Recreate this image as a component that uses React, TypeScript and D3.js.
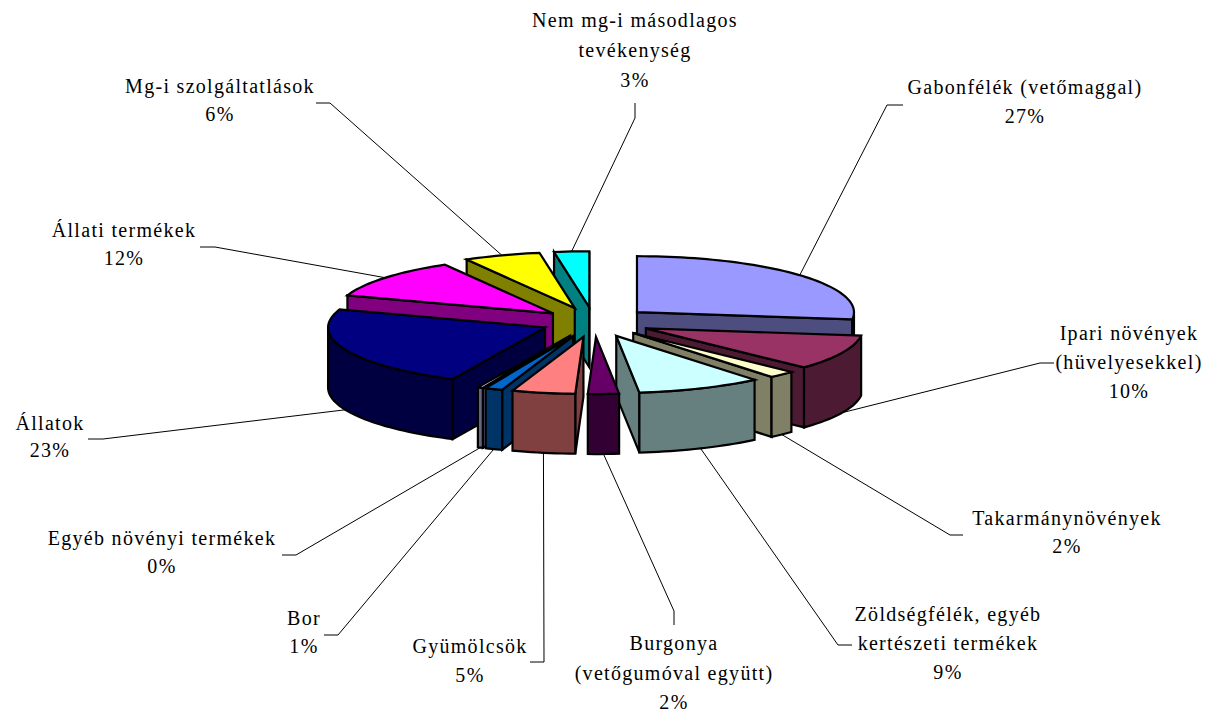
import React from "react";
import * as d3 from "d3";

// ---- data (percent shares, clockwise from 12 o'clock) ----
const categories = [
  ["Gabonfélék (vetőmaggal)"],
  ["Ipari növények", "(hüvelyesekkel)"],
  ["Takarmánynövények"],
  ["Zöldségfélék, egyéb", "kertészeti termékek"],
  ["Burgonya", "(vetőgumóval együtt)"],
  ["Gyümölcsök"],
  ["Bor"],
  ["Egyéb növényi termékek"],
  ["Állatok"],
  ["Állati termékek"],
  ["Mg-i szolgáltatlások"],
  ["Nem mg-i másodlagos", "tevékenység"],
];
const shares = [27, 10, 2, 9.3, 2.3, 4.7, 1.3, 0.4, 23.2, 11.5, 5.7, 2.6];
const topColors = ["#9999FF", "#993366", "#FFFFCC", "#CCFFFF", "#660066", "#FF8080", "#0066CC", "#CCCCFF", "#000080", "#FF00FF", "#FFFF00", "#00FFFF"];
const sideColors = ["#4D4D80", "#4D1A33", "#808066", "#668080", "#330033", "#804040", "#003366", "#666680", "#000040", "#800080", "#808000", "#008080"];
// point explosion per slice (fraction of the radius)
const explosions = [0.264, 0.264, 0.264, 0.264, 0.264, 0.264, 0.264, 0.264, 0.245, 0.245, 0.264, 0.264];
// back-to-front paint order
const paintOrder = [0, 11, 10, 9, 8, 1, 2, 3, 7, 6, 5, 4];

// ---- layout ----
const W = 1209, H = 714;
const CX = 594, CY = 322, RX = 217, RY_BACK = 56, RY_FRONT = 57, DEPTH = 60;
const FONT_SIZE = 20, LETTER = 1.3;
const labelLayout: { x: number; y: number; gap: number; a: number[]; b: number[]; base: boolean }[] = [
  { x: 1025, y: 94, gap: 29, a: [903, 105], b: [887, 105], base: false },
  { x: 1129, y: 340, gap: 29, a: [1054, 363], b: [1040, 363], base: true },
  { x: 1067, y: 525, gap: 28, a: [963, 535], b: [950, 535], base: true },
  { x: 948, y: 621, gap: 29, a: [852, 645], b: [838, 645], base: true },
  { x: 674, y: 650, gap: 29.5, a: [674, 625], b: [674, 611], base: true },
  { x: 470, y: 653, gap: 29, a: [530, 662], b: [544, 662], base: true },
  { x: 304, y: 625, gap: 28, a: [324, 635], b: [338, 635], base: true },
  { x: 162, y: 545, gap: 28, a: [282, 555], b: [296, 555], base: true },
  { x: 50, y: 430, gap: 27, a: [88, 439], b: [103, 439], base: true },
  { x: 124, y: 237, gap: 28, a: [200, 247], b: [215, 247], base: false },
  { x: 220, y: 93, gap: 28, a: [316, 103], b: [330, 103], base: false },
  { x: 635, y: 27, gap: 30, a: [635, 103], b: [635, 118], base: false },
];

const pct = d3.format(".0f");
const pieAngles = d3.pie<number>().sort(null).value((d) => d)(shares);

const ry = (t: number) => (Math.cos(t) > 0 ? RY_BACK : RY_FRONT);
const line = d3.line<number[]>().x((d) => d[0]).y((d) => d[1]);

const slices = pieAngles.map((p, i) => {
  const a0 = p.startAngle, a1 = p.endAngle, mid = (a0 + a1) / 2;
  const e = explosions[i];
  const ax = CX + e * RX * Math.sin(mid);
  const ay = CY - e * ry(mid) * Math.cos(mid);
  const pt = (t: number, dz = 0) => [ax + RX * Math.sin(t), ay - ry(t) * Math.cos(t) + dz];
  const arc = (s: number, t: number, dz = 0) => {
    const n = Math.max(2, Math.ceil((t - s) / 0.03));
    return d3.range(n + 1).map((k) => pt(s + ((t - s) * k) / n, dz));
  };
  return { i, a0, a1, mid, ax, ay, pt, arc };
});

function SliceMark({ s }: { s: (typeof slices)[number] }) {
  const { i, a0, a1, ax, ay, pt, arc } = s;
  const top = topColors[i], side = sideColors[i];
  const common = { stroke: "#000", strokeWidth: 2.2, strokeLinejoin: "miter" as const };
  const parts: React.ReactNode[] = [];
  const radial = (t: number, key: string) => (
    <path key={key} d={(line([[ax, ay], pt(t), pt(t, DEPTH), [ax, ay + DEPTH]]) as string) + "Z"} fill={side} {...common} />
  );
  if (Math.sin(a0) < 0) parts.push(radial(a0, "r0"));
  if (Math.sin(a1) > 0) parts.push(radial(a1, "r1"));
  const w0 = Math.max(a0, Math.PI / 2), w1 = Math.min(a1, (3 * Math.PI) / 2);
  if (w1 > w0) {
    const pts = [...arc(w0, w1), ...arc(w0, w1, DEPTH).reverse()];
    parts.push(<path key="w" d={(line(pts) as string) + "Z"} fill={side} {...common} />);
  }
  parts.push(<path key="t" d={(line([[ax, ay], ...arc(a0, a1)]) as string) + "Z"} fill={top} {...common} />);
  return <g>{parts}</g>;
}

export default function App() {
  return (
    <svg width={W} height={H} viewBox={`0 0 ${W} ${H}`} style={{ position: "absolute", left: 0, top: 0, background: "#fff" }}>
      <g fill="none" stroke="#000" strokeWidth={1}>
        {slices.map((s) => {
          const l = labelLayout[s.i];
          return <path key={s.i} d={line([l.a, l.b, s.pt(s.mid, l.base ? DEPTH : 0)]) as string} />;
        })}
      </g>
      {paintOrder.map((k) => (
        <SliceMark key={k} s={slices[k]} />
      ))}
      <g fontFamily="'Liberation Serif', serif" fontSize={FONT_SIZE} letterSpacing={LETTER} textAnchor="middle" fill="#000">
        {categories.map((lines, i) => {
          const l = labelLayout[i];
          return (
            <text key={i}>
              {[...lines, pct(shares[i]) + "%"].map((t, j) => (
                <tspan key={j} x={l.x} y={l.y + j * l.gap}>{t}</tspan>
              ))}
            </text>
          );
        })}
      </g>
    </svg>
  );
}
